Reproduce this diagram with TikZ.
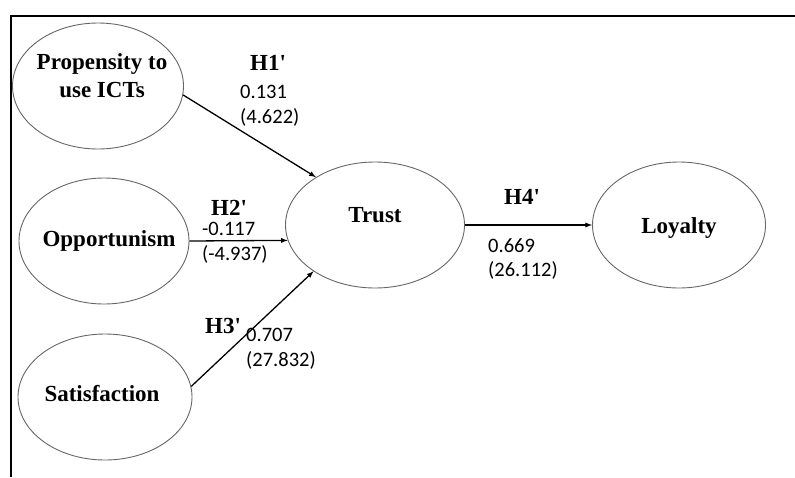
\documentclass[tikz,border=0pt]{standalone}
\usepackage{fontspec}
\setmainfont{Liberation Serif}
\newfontfamily\calfont{Carlito}
\usepackage{tikz}
\usetikzlibrary{shapes.geometric,positioning}
\tikzset{>=latex}
\tikzset{
  construct/.style={ellipse, draw=black!60, line width=0.9pt, inner sep=0pt,
    minimum width=172pt, minimum height=126pt},
  cname/.style={font=\fontsize{23}{28}\selectfont\bfseries, align=center, inner sep=0pt},
  hyp/.style={font=\fontsize{23}{28}\selectfont\bfseries, inner sep=0pt},
  coef/.style={font=\calfont\fontsize{20.5}{24.5}\selectfont, align=left, inner sep=0pt, anchor=west},
  link/.style={->, line width=1.3pt}
}
\newcommand{\hq}{\textquotesingle}

\begin{document}
\begin{tikzpicture}[x=1pt,y=-1pt]
  \useasboundingbox (0,0) rectangle (795,477);
  \draw[line width=2pt] (11,477) -- (11,16) -- (795,16);

  % Nodes
  \node[construct, minimum width=171pt,
    label={[cname, xshift=4pt, yshift=10pt]center:Propensity to\\use ICTs}] (prop) at (98,86) {};
  \node[construct, minimum width=170pt,
    label={[cname, xshift=5pt]center:Opportunism}] (opp) at (104,241) {};
  \node[construct, minimum width=174pt,
    label={[cname, xshift=-3pt, yshift=3pt]center:Satisfaction}] (sat) at (105,397) {};
  \node[construct, minimum width=179pt,
    label={[cname, yshift=10pt]center:Trust}] (trust) at (375,225) {};
  \node[construct, minimum width=173pt,
    label={[cname, yshift=-3pt]center:Loyalty}] (loyal) at (679,225) {};

  % Edges
  \draw[link] (prop.-6) -- (trust.141);
  \draw[link] (opp.east) -- (trust.190);
  \draw[link] (sat.7) -- (trust.217);
  \draw[link] (trust.east) -- (loyal.west);

  % Labels
  \node[hyp] (h1) at (268,63) {H1\hq};
  \node[coef] (b1) at (240,106) {0.131\\(4.622)};
  \node[hyp] (h2) at (229,208) {H2\hq};
  \node[coef] (b2) at (202,243) {-0.117\\(-4.937)};
  \node[hyp] (h3) at (223,326) {H3\hq};
  \node[coef] (b3) at (246,349) {0.707\\(27.832)};
  \node[hyp] (h4) at (522,197) {H4\hq};
  \node[coef] (b4) at (488,259) {0.669\\(26.112)};
\end{tikzpicture}
\end{document}
